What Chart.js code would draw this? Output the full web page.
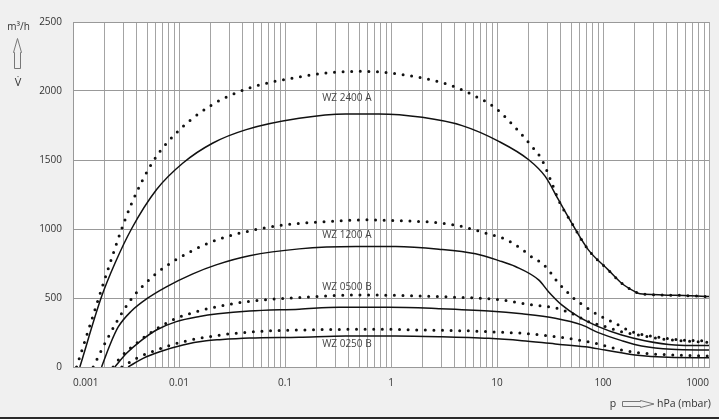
<!DOCTYPE html>
<html lang="en">
<head>
    <meta charset="UTF-8">
    <title>WZ pump curves</title>
    <style>
        body {
            margin: 0;
            background-color: #f0f0f0;
        }
        canvas {
            display: block;
        }
    </style>
</head>
<body>
    <canvas id="pumpChart" width="719" height="419"></canvas>

    <script src="https://cdn.jsdelivr.net/npm/chart.js"></script>
    <script>
        // pressure p in hPa (mbar) and flow V in m3/h
        const p2400A = [0.00116, 0.00186, 0.0025, 0.00356, 0.00612, 0.0109, 0.0209, 0.0431, 0.136, 0.375, 0.77, 1.97, 4.69, 10.4, 19.9, 28.5, 38, 50.7, 72.8, 112, 150, 200, 223, 476, 1000];
        const v2400A = [0, 510, 755, 1000, 1284, 1478, 1623, 1720, 1802, 1834, 1834, 1809, 1749, 1635, 1502, 1381, 1212, 1043, 849, 704, 607, 546, 530, 520, 510];
        const p2400Adot = [0.00108, 0.0015, 0.00186, 0.00231, 0.00277, 0.00356, 0.00569, 0.00944, 0.0194, 0.0462, 0.136, 0.243, 0.537, 0.957, 1.97, 3.51, 5.82, 9.64, 16.6, 21.3, 26.5, 32.9, 38, 50.7, 72.8, 112, 150, 200, 223, 476, 1000];
        const v2400Adot = [0, 341, 565, 785, 965, 1183, 1490, 1696, 1889, 2022, 2102, 2131, 2143, 2131, 2095, 2046, 1974, 1877, 1696, 1599, 1502, 1333, 1212, 1043, 849, 704, 607, 546, 530, 520, 510];

        const p1200A = [0.00186, 0.00223, 0.00267, 0.00356, 0.00493, 0.0076, 0.0135, 0.0224, 0.0462, 0.136, 0.466, 1.107, 2.83, 6.27, 10.4, 14.9, 24.7, 30.6, 40.8, 58.6, 90.4, 150, 248, 475, 1000];
        const v1200A = [0, 160, 290, 406, 493, 581, 675, 740, 806, 856, 873, 873, 854, 820, 771, 728, 631, 546, 450, 365, 293, 232, 191, 160, 155];
        const p1200Adot = [0.00155, 0.00186, 0.00208, 0.00258, 0.00297, 0.00344, 0.00411, 0.0051, 0.00612, 0.00787, 0.00977, 0.0135, 0.0168, 0.0233, 0.0334, 0.048, 0.0687, 0.122, 0.261, 0.578, 1.19, 2.63, 4.69, 7.76, 12.0, 16.6, 22.1, 26.5, 30.6, 38, 44, 50.7, 67.8, 90.4, 130, 186, 308, 541, 1000];
        const v1200Adot = [0, 123, 196, 327, 406, 479, 552, 624, 679, 740, 786, 845, 880, 924, 960, 989, 1012, 1038, 1054, 1067, 1060, 1047, 1018, 970, 927, 861, 789, 753, 704, 607, 559, 510, 438, 377, 317, 256, 220, 196, 188];

        const p0500B = [0.00248, 0.0032, 0.00427, 0.00612, 0.00944, 0.0156, 0.0233, 0.0462, 0.136, 0.324, 0.957, 2.83, 8.35, 17.2, 35.4, 63, 90.4, 150, 231, 443, 1000];
        const v0500B = [0, 99, 184, 268, 329, 366, 385, 405, 419, 433, 433, 423, 406, 385, 353, 305, 249, 191, 152, 128, 123];
        const p0500Bdot = [0.00239, 0.00277, 0.0041, 0.00612, 0.00944, 0.0156, 0.0279, 0.0497, 0.136, 0.466, 0.957, 2.83, 10.4, 21.3, 36.6, 54.6, 72.8, 104.5, 150, 215, 383, 1000];
        const v0500Bdot = [0, 65, 181, 276, 353, 407, 450, 479, 503, 522, 520, 510, 488, 450, 426, 377, 329, 293, 256, 232, 201, 178];

        const p0250B = [0.00331, 0.00458, 0.00658, 0.0109, 0.0181, 0.0242, 0.0462, 0.136, 0.375, 1.107, 2.83, 8.35, 17.2, 35.4, 67.8, 104.5, 200, 412, 1000];
        const v0250B = [0, 63, 111, 160, 190, 198, 210, 216, 225, 225, 220, 208, 191, 167, 147, 123, 87, 70, 67];
        const p0250Bdot = [0.00289, 0.00397, 0.00612, 0.0117, 0.0279, 0.0664, 0.136, 0.667, 1.97, 5.82, 10.4, 17.2, 35.4, 58.6, 84, 150, 248, 475, 1000];
        const v0250Bdot = [0, 63, 123, 189, 237, 261, 268, 274, 268, 261, 252, 245, 220, 196, 172, 123, 99, 87, 80];

        // curve names written next to the lines
        const seriesNames = ['WZ 2400 A', 'WZ 1200 A', 'WZ 0500 B', 'WZ 0250 B'];
        const nameFlow = [1945, 958, 575, 165];
        const nameP = 0.224;

        // axis ticks
        const decades = [0.001, 0.01, 0.1, 1, 10, 100];
        const yTicks = [0, 500, 1000, 1500, 2000, 2500];

        const xTickValues = [];
        decades.forEach(d => {
            for (let m = 1; m <= 9; m++) {
                xTickValues.push(Number((m * d).toPrecision(6)));
            }
        });
        xTickValues.push(1000);

        function points(ps, vs) {
            return ps.map((p, i) => ({ x: p, y: vs[i] }));
        }

        function solid(data) {
            return {
                data: data,
                borderColor: '#111111',
                borderWidth: 1.5,
                pointRadius: 0,
                fill: false,
                cubicInterpolationMode: 'monotone'
            };
        }

        function dotted(data) {
            return {
                data: data,
                borderColor: '#111111',
                borderWidth: 3,
                borderDash: [0, 8.6],
                borderCapStyle: 'round',
                pointRadius: 0,
                fill: false,
                cubicInterpolationMode: 'monotone'
            };
        }

        const isDecade = v => Math.abs(Math.log10(v) - Math.round(Math.log10(v))) < 1e-6;

        // white plot area, curve names, axis titles and arrows
        const decorations = {
            id: 'decorations',
            beforeDraw(chart) {
                const { ctx, chartArea: a } = chart;
                ctx.save();
                ctx.fillStyle = '#ffffff';
                ctx.fillRect(a.left, a.top, a.right - a.left, a.bottom - a.top);
                ctx.restore();
            },
            afterDraw(chart) {
                const { ctx, scales: { x, y } } = chart;
                ctx.save();
                ctx.fillStyle = '#444444';
                ctx.font = '10px "Open Sans"';
                ctx.textBaseline = 'middle';
                ctx.textAlign = 'left';
                seriesNames.forEach((name, i) => {
                    ctx.fillText(name, x.getPixelForValue(nameP), y.getPixelForValue(nameFlow[i]));
                });

                // y title
                ctx.fillStyle = '#333333';
                ctx.textAlign = 'center';
                ctx.fillText('m³/h', 18.5, 27);
                ctx.font = '11px "Open Sans"';
                ctx.fillText('V\u0307', 18, 83);

                ctx.strokeStyle = '#777777';
                ctx.lineWidth = 1;
                ctx.beginPath();
                ctx.moveTo(17.5, 38.5);
                ctx.lineTo(21.5, 52.5);
                ctx.lineTo(20.5, 52.5);
                ctx.lineTo(20.5, 68.5);
                ctx.lineTo(14.5, 68.5);
                ctx.lineTo(14.5, 52.5);
                ctx.lineTo(13.5, 52.5);
                ctx.closePath();
                ctx.stroke();

                // x title
                ctx.font = '10.5px "Open Sans"';
                ctx.fillText('p', 613, 404);
                ctx.textAlign = 'left';
                ctx.fillText('hPa (mbar)', 657, 404);
                ctx.beginPath();
                ctx.moveTo(622.5, 401.5);
                ctx.lineTo(640.5, 401.5);
                ctx.lineTo(640.5, 400.5);
                ctx.lineTo(654, 404);
                ctx.lineTo(640.5, 407.5);
                ctx.lineTo(640.5, 406.5);
                ctx.lineTo(622.5, 406.5);
                ctx.closePath();
                ctx.stroke();

                // bottom frame line
                ctx.fillStyle = '#2a2a2a';
                ctx.fillRect(0, 417, 719, 2);
                ctx.restore();
            }
        };

        Chart.defaults.font.family = '"Open Sans", sans-serif';

        const ctx = document.getElementById('pumpChart').getContext('2d');
        const pumpChart = new Chart(ctx, {
            type: 'line',
            data: {
                datasets: [
                    solid(points(p2400A, v2400A)),
                    dotted(points(p2400Adot, v2400Adot)),
                    solid(points(p1200A, v1200A)),
                    dotted(points(p1200Adot, v1200Adot)),
                    solid(points(p0500B, v0500B)),
                    dotted(points(p0500Bdot, v0500Bdot)),
                    solid(points(p0250B, v0250B)),
                    dotted(points(p0250Bdot, v0250Bdot))
                ]
            },
            options: {
                responsive: false,
                animation: false,
                layout: {
                    padding: { left: 0, right: 8, top: 22, bottom: 22 }
                },
                plugins: {
                    legend: { display: false },
                    tooltip: { enabled: false }
                },
                scales: {
                    x: {
                        type: 'logarithmic',
                        min: 0.001,
                        max: 1000,
                        afterBuildTicks: scale => {
                            scale.ticks = xTickValues.map(v => ({ value: v }));
                        },
                        afterFit: scale => {
                            scale.height = 30;
                        },
                        ticks: {
                            autoSkip: false,
                            maxRotation: 0,
                            align: 'inner',
                            padding: 10,
                            color: '#333333',
                            font: { size: 10 },
                            callback: v => isDecade(v) ? String(Number(v.toPrecision(6))) : ''
                        },
                        grid: {
                            color: '#a4a4a4',
                            drawTicks: false
                        },
                        border: { color: '#999999' }
                    },
                    y: {
                        min: 0,
                        max: 2500,
                        afterBuildTicks: scale => {
                            scale.ticks = yTicks.map(v => ({ value: v }));
                        },
                        afterFit: scale => {
                            scale.width = 73;
                        },
                        ticks: {
                            padding: 11,
                            color: '#333333',
                            font: { size: 10 },
                            callback: v => String(v)
                        },
                        grid: {
                            color: '#999999',
                            drawTicks: false
                        },
                        border: { color: '#999999' }
                    }
                }
            },
            plugins: [decorations]
        });
    </script>
</body>
</html>
